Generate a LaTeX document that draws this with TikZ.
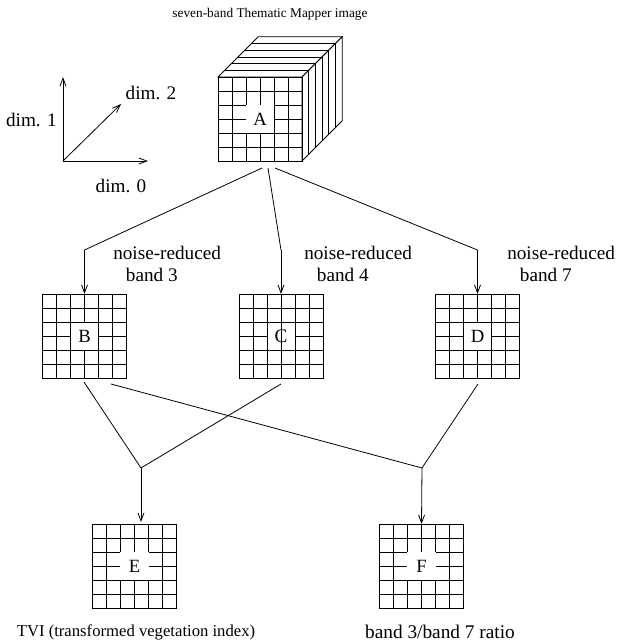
\documentclass[tikz,border=0pt]{standalone}
\usepackage{fontspec}
\setmainfont{Liberation Serif}
\usetikzlibrary{arrows.meta}

\tikzset{
  line/.style={line width=0.6pt},
  arr/.style={line, -{Straight Barb[length=6pt,width=4.5pt]}},
  gridbox/.style={draw, line width=0.6pt, minimum size=63pt, inner sep=0pt, outer sep=0pt},
  gridline/.style={line width=0.6pt},
  plainlabel/.style={fill=white, minimum size=21.6pt, inner sep=0pt, font=\fontsize{14}{16}\selectfont},
  framedlabel/.style={plainlabel, draw, line width=0.6pt, minimum size=21pt},
  txt/.style={font=\fontsize{14.4}{16.5}\selectfont, inner sep=0pt},
  smalltxt/.style={font=\fontsize{10}{12}\selectfont, inner sep=0pt},
}

% 6x6 grid inside a square node
\newcommand{\cellgrid}[1]{%
  \foreach \i in {1,...,5} {
    \draw[gridline] ([xshift=\i*10.5pt]#1.north west) -- ([xshift=\i*10.5pt]#1.south west);
    \draw[gridline] ([yshift=-\i*10.5pt]#1.north west) -- ([yshift=-\i*10.5pt]#1.north east);
  }}

\begin{document}
\begin{tikzpicture}[x=0.75pt, y=-0.75pt]
\useasboundingbox (0,0) rectangle (618,644);

% title
\node[smalltxt] (title) at (270,14) {seven-band Thematic Mapper image};

% axes
\coordinate (o) at (63,161);
\coordinate (ax1) at (63,77);
\coordinate (ax0) at (148,161);
\coordinate (ax2) at (121,104);
\draw[arr] (o) -- (ax1);
\draw[arr] (o) -- (ax0);
\draw[arr] (o) -- (ax2);
\node[txt, anchor=east] (d1) at (57,120) {dim. 1};
\node[txt] (d2) at (151,93) {dim. 2};
\node[txt] (d0) at (121,186) {dim. 0};

% band stack behind the front face
\def\dd{6.7}
\draw[line, fill=white] (218,77) -- (302,77) -- (302+6*\dd,77-6*\dd) -- (218+6*\dd,77-6*\dd) -- cycle;
\draw[line, fill=white] (302,77) -- (302+6*\dd,77-6*\dd) -- (302+6*\dd,161-6*\dd) -- (302,161) -- cycle;
\foreach \k in {1,...,5} {
  \draw[line] (218+\k*\dd,77-\k*\dd) -- (302+\k*\dd,77-\k*\dd) -- (302+\k*\dd,161-\k*\dd);
}

% front face A
\node[gridbox] (A) at (260,119) {};
\cellgrid{A}
\node[plainlabel] (Al) at (A) {A};

% noise-reduced bands
\node[gridbox] (B) at (84.5,336) {};
\cellgrid{B}
\node[framedlabel] (Bl) at (B) {B};

\node[gridbox] (C) at (281,336) {};
\cellgrid{C}
\node[framedlabel] (Cl) at (C) {};
\draw[gridline] (Cl.north) -- (Cl.south);
\node[txt] (Ct) at (C) {C};

\node[gridbox] (D) at (477.5,336) {};
\cellgrid{D}
\node[framedlabel] (Dl) at (D) {D};

% derived products
\node[gridbox] (E) at (134.5,566) {};
\cellgrid{E}
\node[plainlabel] (El) at (E) {E};

\node[gridbox] (F) at (421.5,566) {};
\cellgrid{F}
\node[plainlabel] (Fl) at (F) {F};

% split from A to the three bands
\coordinate (sa1) at (262,168);
\coordinate (sa2) at (268,168);
\coordinate (sa3) at (275,168);
\coordinate (kb) at (84.5,250);
\coordinate (kc) at (281,250);
\coordinate (kd) at (477.5,250);
\draw[line] (sa1) -- (kb);
\draw[line] (sa2) -- (kc);
\draw[line] (sa3) -- (kd);
\draw[arr] (kb) -- (B.north);
\draw[arr] (kc) -- (C.north);
\draw[arr] (kd) -- (D.north);

\node[txt, align=left, anchor=west] (lb) at (113,264) {noise-reduced\\\hspace*{9.5pt}band 3};
\node[txt, align=left, anchor=west] (lc) at (304,264) {noise-reduced\\\hspace*{9.5pt}band 4};
\node[txt, align=left, anchor=west] (ld) at (507,264) {noise-reduced\\\hspace*{9.5pt}band 7};

% combining bands
\coordinate (jE) at (141,468);
\coordinate (jF) at (422,468);
\coordinate (b1) at (84,382);
\coordinate (b2) at (111,384);
\coordinate (c1) at (281,384);
\coordinate (d1o) at (478,384);
\draw[line] (b1) -- (jE);
\draw[line] (c1) -- (jE);
\draw[line] (b2) -- (jF);
\draw[line] (d1o) -- (jF);
\draw[arr] (jE) -- (141,522);
\draw[arr] (jF) -- (F.north);

\node[inner sep=0pt, font=\fontsize{12.5}{14}\selectfont] (te) at (136,632) {TVI (transformed vegetation index)};
\node[inner sep=0pt, font=\fontsize{14.5}{16}\selectfont] (tf) at (440,632) {band 3/band 7 ratio};
\end{tikzpicture}
\end{document}
